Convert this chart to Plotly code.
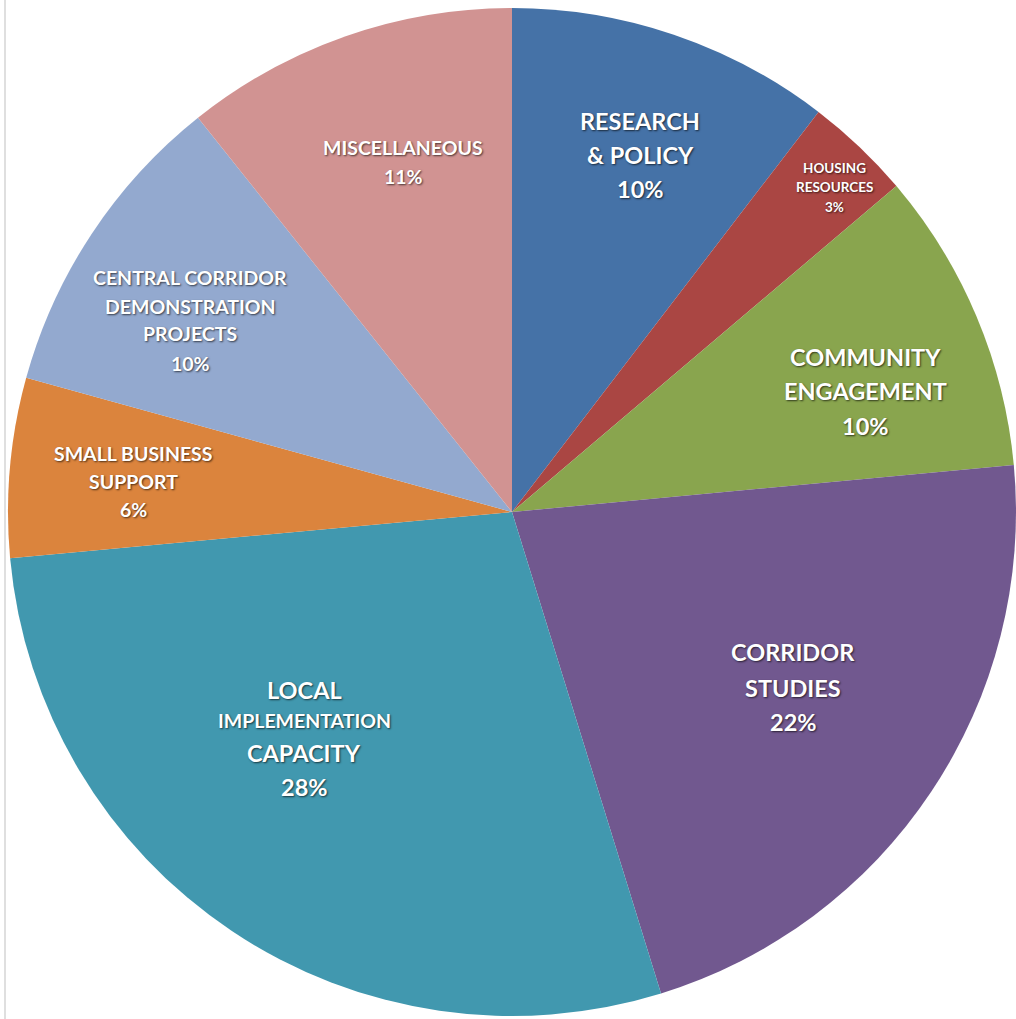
import plotly.graph_objects as go

categories = ["RESEARCH & POLICY", "HOUSING RESOURCES", "COMMUNITY ENGAGEMENT",
              "CORRIDOR STUDIES", "LOCAL IMPLEMENTATION CAPACITY",
              "SMALL BUSINESS SUPPORT", "CENTRAL CORRIDOR DEMONSTRATION PROJECTS",
              "MISCELLANEOUS"]
values = [10.4, 3.4, 9.7, 21.7, 28.3, 5.75, 10.0, 10.7]
pct_labels = ["10%", "3%", "10%", "22%", "28%", "6%", "10%", "11%"]
colors = ["#4572A7", "#AA4643", "#89A54E", "#71588F", "#4198AF",
          "#DB843D", "#93A9CF", "#D19392"]

W, H = 1016, 1019
L, R, T, B = 8, 0, 8, 3

fig = go.Figure(go.Pie(
    labels=categories, values=values, sort=False, direction="clockwise",
    rotation=0, textinfo="none", hoverinfo="label+percent",
    marker=dict(colors=colors, line=dict(width=0)),
    showlegend=False,
))

BIG, SMALL, TINY = 23.5, 19.5, 13.5
# label lines: (text, center x px, center y px, font size)
label_lines = [
    [("RESEARCH", 640, 121, BIG), ("& POLICY", 640, 155, BIG), (pct_labels[0], 640, 189, BIG)],
    [("HOUSING", 834, 168, TINY), ("RESOURCES", 834, 187, TINY), (pct_labels[1], 834, 207, TINY)],
    [("COMMUNITY", 865, 357, BIG), ("ENGAGEMENT", 865, 391, BIG), (pct_labels[2], 865, 426, BIG)],
    [("CORRIDOR", 793, 652, BIG), ("STUDIES", 793, 688, BIG), (pct_labels[3], 793, 722, BIG)],
    [("LOCAL", 304, 690, BIG), ("IMPLEMENTATION", 304, 720, SMALL), ("CAPACITY", 304, 753, BIG), (pct_labels[4], 304, 787, BIG)],
    [("SMALL BUSINESS", 133, 453, SMALL), ("SUPPORT", 133, 481, SMALL), (pct_labels[5], 133, 509, SMALL)],
    [("CENTRAL CORRIDOR", 190, 278, SMALL), ("DEMONSTRATION", 190, 306, SMALL), ("PROJECTS", 190, 334, SMALL), (pct_labels[6], 190, 363, SMALL)],
    [("MISCELLANEOUS", 403, 148, SMALL), (pct_labels[7], 403, 177, SMALL)],
]

pw, ph = W - L - R, H - T - B
annotations = []
for group in label_lines:
    for text, px, py, fs in group:
        annotations.append(dict(
            text="<b>" + text + "</b>", x=(px - L) / pw, y=1 - (py - T) / ph,
            xref="paper", yref="paper", showarrow=False,
            xanchor="center", yanchor="middle",
            font=dict(family="Lato, 'Open Sans', sans-serif", size=fs, color="white",
                      shadow="1px 1px 2px rgba(0,0,0,0.65)"),
        ))

fig.update_layout(
    width=W, height=H,
    margin=dict(l=L, r=R, t=T, b=B, pad=0),
    paper_bgcolor="white", plot_bgcolor="white",
    annotations=annotations,
    shapes=[dict(type="line", xref="paper", yref="paper",
                 x0=(5 - L) / pw, x1=(5 - L) / pw, y0=-1, y1=2,
                 line=dict(color="#d4d4d4", width=1.5))],
)

fig.write_html("out.html")
